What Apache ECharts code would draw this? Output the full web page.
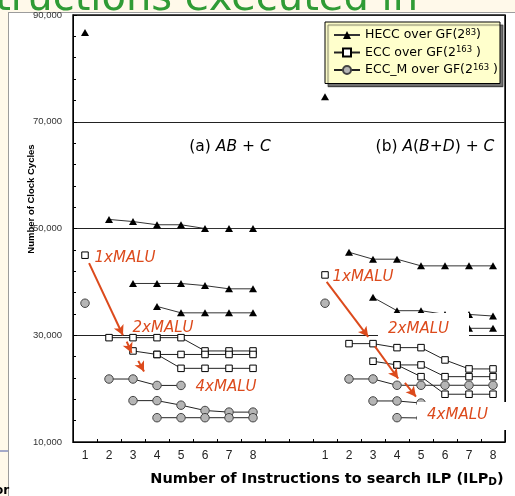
<!DOCTYPE html>
<html><head><meta charset="utf-8">
<script src="https://cdn.jsdelivr.net/npm/echarts@6/dist/echarts.min.js"></script>
<style>
html,body{margin:0;padding:0;background:#FFF9EA;}
body{width:515px;height:496px;overflow:hidden;position:relative;}
#bg{position:absolute;left:8px;top:12px;width:520px;height:500px;background:#fff;border-left:1px solid #9c9c9c;border-top:1px solid #9c9c9c;}
#chart{position:absolute;left:0;top:0;width:515px;height:496px;}
</style></head><body>
<div id="bg"></div><div id="chart"></div>
<script>
// ---- categories / ticks ----
const ilpLabels = ['1','2','3','4','5','6','7','8'];
const categories = [...ilpLabels, '', '', ...ilpLabels];
const yMin = 10000, yMax = 90000, yStep = 20000;
const panelOffsetA = 0, panelOffsetB = 10;

// ---- panel (a) AB + C : values for ILPD = 1..8 ----
const aHecc0 = [86700, null, null, null, null, null, null, null];
const aHecc1 = [null, 51700, 51300, 50700, 50700, 50000, 50000, 50000];
const aHecc2 = [null, null, 39700, 39700, 39700, 39300, 38700, 38700];
const aHecc4 = [null, null, null, 35400, 34200, 34200, 34200, 34200];
const aEcc0  = [45000, null, null, null, null, null, null, null];
const aEcc1  = [null, 29550, 29550, 29550, 29550, 27060, 27060, 27060];
const aEcc2  = [null, null, 27060, 26400, 26400, 26400, 26400, 26400];
const aEcc4  = [null, null, null, 26400, 23800, 23800, 23800, 23800];
const aEccm0 = [36000, null, null, null, null, null, null, null];
const aEccm1 = [null, 21800, 21800, 20600, 20600, null, null, null];
const aEccm2 = [null, null, 17750, 17750, 16900, 15900, 15600, 15600];
const aEccm4 = [null, null, null, 14550, 14550, 14550, 14550, 14550];

// ---- panel (b) A(B+D) + C ----
const bHecc0 = [74700, null, null, null, null, null, null, null];
const bHecc1 = [null, 45550, 44250, 44250, 43000, 43000, 43000, 43000];
const bHecc2 = [null, null, 37100, 34600, 34600, 33900, 33900, 33600];
const bHecc4 = [null, null, null, 31300, 31300, 31300, 31300, 31300];
const bEcc0  = [41300, null, null, null, null, null, null, null];
const bEcc1  = [null, 28430, 28430, 27680, 27680, 25370, 23690, 23690];
const bEcc2  = [null, null, 25130, 24440, 24440, 22240, 22240, 22240];
const bEcc4  = [null, null, null, 24440, 22240, 18950, 18950, 18950];
const bEccm0 = [36000, null, null, null, null, null, null, null];
const bEccm1 = [null, 21810, 21810, 20630, 20630, 20630, 20630, 20630];
const bEccm2 = [null, null, 17690, 17690, 17300, 16500, 16500, 16500];
const bEccm4 = [null, null, null, 14560, 14500, 14500, 14500, 14500];

// ---- arrows (annotation, data coordinates on helper value axis 0..18) ----
const arrowSegments = [
  [[0.67, 43500], [2.08, 30000]],
  [[2.24, 28800], [2.44, 26700]],
  [[2.72, 25200], [2.96, 23200]],
  [[10.57, 40000], [12.30, 29700]],
  [[12.58, 27900], [13.55, 21900]],
  [[13.83, 21100], [14.29, 18500]]
];

const NAME_HECC = 'HECC over GF(2^83)';
const NAME_ECC = 'ECC over GF(2^163 )';
const NAME_ECCM = 'ECC_M over GF(2^163 )';

const styles = {
  hecc: {name: NAME_HECC, symbol: 'triangle', symbolSize: [8, 7],
         itemStyle: {color: '#000', borderColor: '#000', borderWidth: 0},
         lineStyle: {color: '#333', width: 1}},
  ecc:  {name: NAME_ECC, symbol: 'rect', symbolSize: 6.5,
         itemStyle: {color: '#fff', borderColor: '#000', borderWidth: 1},
         lineStyle: {color: '#222', width: 1}},
  eccm: {name: NAME_ECCM, symbol: 'circle', symbolSize: 8.5,
         itemStyle: {color: '#b5b5b5', borderColor: '#444', borderWidth: 1},
         lineStyle: {color: '#222', width: 1}}
};

function pts(arr, offset) {
  const out = [];
  arr.forEach((v, i) => { if (v != null) out.push([i + offset, v]); });
  return out;
}
function mk(kind, arr, offset) {
  const s = styles[kind];
  return {
    type: 'line', name: s.name, xAxisIndex: 0, yAxisIndex: 0,
    data: pts(arr, offset), symbol: s.symbol, symbolSize: s.symbolSize,
    showSymbol: true, showAllSymbol: true, itemStyle: s.itemStyle, lineStyle: s.lineStyle,
    emphasis: {disabled: true}, z: 3
  };
}

const series = [
  mk('hecc', aHecc1, panelOffsetA), mk('ecc', aEcc1, panelOffsetA), mk('eccm', aEccm1, panelOffsetA),
  mk('hecc', aHecc0, panelOffsetA), mk('hecc', aHecc2, panelOffsetA), mk('hecc', aHecc4, panelOffsetA),
  mk('ecc', aEcc0, panelOffsetA), mk('ecc', aEcc2, panelOffsetA), mk('ecc', aEcc4, panelOffsetA),
  mk('eccm', aEccm0, panelOffsetA), mk('eccm', aEccm2, panelOffsetA), mk('eccm', aEccm4, panelOffsetA),
  mk('hecc', bHecc0, panelOffsetB), mk('hecc', bHecc1, panelOffsetB), mk('hecc', bHecc2, panelOffsetB), mk('hecc', bHecc4, panelOffsetB),
  mk('ecc', bEcc0, panelOffsetB), mk('ecc', bEcc1, panelOffsetB), mk('ecc', bEcc2, panelOffsetB), mk('ecc', bEcc4, panelOffsetB),
  mk('eccm', bEccm0, panelOffsetB), mk('eccm', bEccm1, panelOffsetB), mk('eccm', bEccm2, panelOffsetB), mk('eccm', bEccm4, panelOffsetB),
  {
    type: 'line', name: 'arrows', xAxisIndex: 1, yAxisIndex: 0, data: [], silent: true, z: 4,
    markLine: {
      silent: true, symbol: ['none', 'arrow'], symbolSize: [8, 10], animation: false,
      label: {show: false},
      lineStyle: {color: '#DC4A1C', width: 2, type: 'solid'},
      emphasis: {disabled: true},
      data: arrowSegments.map(seg => [{coord: seg[0]}, {coord: seg[1]}])
    }
  }
];

const RED = '#DC4A1C';
const redFont = {fontFamily: 'DejaVu Sans', fontStyle: 'italic', fontSize: 15, fill: RED};
function redLabel(text, x, y) {
  return {type: 'text', x: x, y: y, z: 101, silent: true,
    style: Object.assign({text: text, align: 'center', verticalAlign: 'middle'}, redFont)};
}
function whiteBox(x, y, w, h) {
  return {type: 'rect', shape: {x: x, y: y, width: w, height: h}, z: 100, silent: true,
    style: {fill: '#fff', stroke: null}};
}

const chart = echarts.init(document.getElementById('chart'), null, {renderer: 'canvas'});
chart.setOption({
  animation: false,
  backgroundColor: 'transparent',
  grid: {left: 73, right: 10, top: 15, bottom: 54, containLabel: false,
         show: true, borderColor: '#111', borderWidth: 1.5, backgroundColor: 'transparent'},
  legend: {
    show: true, orient: 'vertical', left: 325, top: 22,
    data: [NAME_HECC, NAME_ECC, NAME_ECCM],
    backgroundColor: '#FFFFCC', borderColor: '#000', borderWidth: 1, borderRadius: 0,
    shadowColor: 'rgba(0,0,0,0.55)', shadowOffsetX: 3, shadowOffsetY: 3, shadowBlur: 1,
    padding: [6, 2, 7, 8], itemGap: 4, itemWidth: 26, itemHeight: 10,
    selectedMode: false,
    formatter: n => {
      const m = n.match(/^(.*)\^(\d+)(.*)$/);
      return '{t|' + m[1] + '}{s|' + m[2] + '}{t|' + m[3] + '}';
    },
    textStyle: {
      color: '#000', fontFamily: 'DejaVu Sans', fontSize: 12.5,
      rich: {
        t: {fontFamily: 'DejaVu Sans', fontSize: 12.5, lineHeight: 14, color: '#000'},
        s: {fontFamily: 'DejaVu Sans', fontSize: 8.5, lineHeight: 9, verticalAlign: 'top', color: '#000'}
      }
    }
  },
  xAxis: [{
    type: 'category', data: categories, boundaryGap: true, gridIndex: 0,
    axisLine: {show: true, lineStyle: {color: '#000', width: 1}},
    axisTick: {show: true, inside: true, length: 3, interval: 0, lineStyle: {color: '#000'}},
    axisLabel: {interval: 0, fontSize: 12, color: '#222', margin: 8, fontFamily: 'Liberation Sans'},
    splitLine: {show: true, interval: (i) => i === 9, lineStyle: {color: '#000', width: 1}}
  }, {
    type: 'value', min: 0, max: 18, show: false, gridIndex: 0,
    splitLine: {show: false}
  }],
  yAxis: [{
    type: 'value', min: yMin, max: yMax, interval: yStep,
    axisLine: {show: true, lineStyle: {color: '#000', width: 1}},
    axisTick: {show: true, inside: true, length: 4, lineStyle: {color: '#000'}},
    minorTick: {show: true, splitNumber: 5, length: 3, lineStyle: {color: '#000'}},
    splitLine: {show: true, lineStyle: {color: '#222', width: 1}},
    axisLabel: {formatter: v => v.toLocaleString('en-US'), fontSize: 9.5, color: '#333',
                fontFamily: 'Liberation Sans', margin: 11}
  }],
  graphic: {elements: [
    {type: 'text', x: 418, y: 0, silent: true, z: 50,
     style: {text: 'Instructions executed in', align: 'right', verticalAlign: 'middle',
             fontFamily: 'DejaVu Sans', fontSize: 40, fill: '#2F9B35'}},
    {type: 'line', shape: {x1: 0, y1: 451, x2: 8, y2: 451}, silent: true, z: 50,
     style: {stroke: '#4a5aa8', lineWidth: 1}},
    {type: 'text', x: -5, y: 491, silent: true, z: 50,
     style: {text: 'or', align: 'left', verticalAlign: 'middle', fontFamily: 'DejaVu Sans',
             fontWeight: 'bold', fontSize: 12, fill: '#000'}},
    {type: 'text', x: 31, y: 199, rotation: Math.PI / 2, silent: true, z: 50,
     style: {text: 'Number of Clock Cycles', align: 'center', verticalAlign: 'middle',
             fontFamily: 'Liberation Sans', fontWeight: 'bold', fontSize: 9.5, fill: '#000'}},
    {type: 'text', x: 327, y: 479, silent: true, z: 50,
     style: {text: '{a|Number of Instructions to search ILP (ILP}{b|D}{a|)}', align: 'center', verticalAlign: 'middle',
             rich: {a: {fontFamily: 'DejaVu Sans', fontWeight: 'bold', fontSize: 14.5, fill: '#000', lineHeight: 18},
                    b: {fontFamily: 'DejaVu Sans', fontWeight: 'bold', fontSize: 10.5, fill: '#000', lineHeight: 18, verticalAlign: 'bottom'}}}},
    {type: 'text', x: 230, y: 147, silent: true, z: 50,
     style: {text: '{n|(a) }{i|AB}{n| + }{i|C}', align: 'center', verticalAlign: 'middle',
             rich: {n: {fontFamily: 'DejaVu Sans', fontSize: 15.5, fill: '#000'},
                    i: {fontFamily: 'DejaVu Sans', fontStyle: 'italic', fontSize: 15.5, fill: '#000'}}}},
    {type: 'text', x: 435, y: 147, silent: true, z: 50,
     style: {text: '{n|(b) }{i|A}{n|(}{i|B}{n|+}{i|D}{n|) + }{i|C}', align: 'center', verticalAlign: 'middle',
             rich: {n: {fontFamily: 'DejaVu Sans', fontSize: 15.5, fill: '#000'},
                    i: {fontFamily: 'DejaVu Sans', fontStyle: 'italic', fontSize: 15.5, fill: '#000'}}}},
    redLabel('1xMALU', 125, 258),
    redLabel('2xMALU', 163, 328),
    redLabel('4xMALU', 226, 387),
    redLabel('1xMALU', 363, 277),
    whiteBox(378, 313, 91, 24),
    redLabel('2xMALU', 418.5, 329),
    whiteBox(417, 402, 91, 28),
    redLabel('4xMALU', 457.5, 415)
  ]},
  series: series
});
</script></body></html>
